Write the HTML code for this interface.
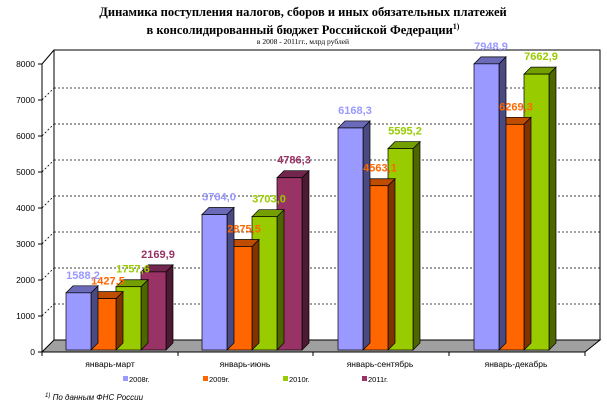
<!DOCTYPE html>
<html><head><meta charset="utf-8"><style>
body{margin:0;background:#fff}
svg text{font-family:"Liberation Sans",sans-serif}
</style></head><body>
<svg width="607" height="406" xmlns="http://www.w3.org/2000/svg">
<rect width="607" height="406" fill="#fff"/>
<text x="303" y="16" text-anchor="middle" font-weight="bold" font-size="12.5" style="font-family:'Liberation Serif',serif">Динамика поступления налогов, сборов и иных обязательных платежей</text>
<text x="303" y="34" text-anchor="middle" font-weight="bold" font-size="12.5" style="font-family:'Liberation Serif',serif">в консолидированный бюджет Российской Федерации<tspan font-size="8" dy="-5">1)</tspan></text>
<text x="303" y="44" text-anchor="middle" font-size="7.5" style="font-family:'Liberation Serif',serif">в 2008 - 2011гг., млрд рублей</text>
<rect x="54" y="50" width="546" height="290" fill="#fff" stroke="#000" stroke-width="1"/>
<polygon points="42,352 54,340 600,340 585,352" fill="#a0a0a0" stroke="#000" stroke-width="1"/>
<line x1="42" y1="64" x2="42" y2="352" stroke="#000"/>
<line x1="42" y1="64" x2="54" y2="50" stroke="#000"/>
<g stroke="#000" stroke-dasharray="2,2" stroke-width="0.8">
<line x1="54" y1="304" x2="600" y2="304"/><line x1="54" y1="268" x2="600" y2="268"/>
<line x1="54" y1="232" x2="600" y2="232"/><line x1="54" y1="196" x2="600" y2="196"/>
<line x1="54" y1="160" x2="600" y2="160"/><line x1="54" y1="124" x2="600" y2="124"/>
<line x1="54" y1="88" x2="600" y2="88"/>
<line x1="42" y1="316" x2="54" y2="304"/><line x1="42" y1="280" x2="54" y2="268"/>
<line x1="42" y1="244" x2="54" y2="232"/><line x1="42" y1="208" x2="54" y2="196"/>
<line x1="42" y1="172" x2="54" y2="160"/><line x1="42" y1="136" x2="54" y2="124"/>
<line x1="42" y1="100" x2="54" y2="88"/>
</g>
<g font-size="8.5" text-anchor="end">
<text x="35" y="355">0</text><text x="35" y="319">1000</text><text x="35" y="283">2000</text>
<text x="35" y="247">3000</text><text x="35" y="211">4000</text><text x="35" y="175">5000</text>
<text x="35" y="139">6000</text><text x="35" y="103">7000</text><text x="35" y="67">8000</text>
</g>
<g stroke="#000"><line x1="38" y1="352" x2="42" y2="352"/><line x1="38" y1="316" x2="42" y2="316"/><line x1="38" y1="280" x2="42" y2="280"/><line x1="38" y1="244" x2="42" y2="244"/><line x1="38" y1="208" x2="42" y2="208"/><line x1="38" y1="172" x2="42" y2="172"/><line x1="38" y1="136" x2="42" y2="136"/><line x1="38" y1="100" x2="42" y2="100"/><line x1="38" y1="64" x2="42" y2="64"/>
<line x1="42" y1="352" x2="585" y2="352"/>
<line x1="42" y1="352" x2="42" y2="356"/><line x1="178" y1="352" x2="178" y2="356"/><line x1="313" y1="352" x2="313" y2="356"/><line x1="449" y1="352" x2="449" y2="356"/><line x1="585" y1="352" x2="585" y2="356"/></g>
<g id="bars" stroke="#000" stroke-width="0.7"></g>
<g id="labels" font-weight="bold" font-size="11" text-anchor="middle"></g>
<g font-size="8.5" text-anchor="middle">
<text x="110" y="367">январь-март</text><text x="245" y="367">январь-июнь</text>
<text x="380" y="367">январь-сентябрь</text><text x="516" y="367">январь-декабрь</text>
</g>
<g font-size="7.5">
<rect x="123" y="376" width="5" height="5" fill="#9999ff"/><text x="129" y="382">2008г.</text>
<rect x="203" y="376" width="5" height="5" fill="#ff6600"/><text x="209" y="382">2009г.</text>
<rect x="283" y="376" width="5" height="5" fill="#99cc00"/><text x="289" y="382">2010г.</text>
<rect x="362" y="376" width="5" height="5" fill="#993366"/><text x="368" y="382">2011г.</text>
</g>
<text x="45" y="400" font-size="8" font-style="italic"><tspan font-size="6" dy="-3">1)</tspan><tspan dy="3"> По данным ФНС России</tspan></text>
<script>
(function(){
var data=[[1588.2,1427.5,1757.6,2169.9],[3764.0,2875.5,3703.0,4786.3],[6168.3,4563.1,5595.2,null],[7948.9,6269.3,7662.9,null]];
var front=["#9999ff","#ff6600","#99cc00","#993366"],side=["#4a4a80","#803300","#4d6600","#4d1a33"],topc=["#6a6ab8","#c04c00","#73a000","#73264d"];
var bg=document.getElementById("bars"),lg=document.getElementById("labels"),ns="http://www.w3.org/2000/svg";
function el(t,a,p){var e=document.createElementNS(ns,t);for(var k in a)e.setAttribute(k,a[k]);p.appendChild(e);return e;}
for(var i=0;i<4;i++)for(var j=3;j>=0;j--){var v=data[i][j];if(v==null)continue;
var x=66+136*i+25*j,w=25,y=350-0.036*v,d=7;
el("polygon",{points:(x+w)+","+y+" "+(x+w+d)+","+(y-d)+" "+(x+w+d)+","+(350-d)+" "+(x+w)+",350",fill:side[j]},bg);
el("polygon",{points:x+","+y+" "+(x+d)+","+(y-d)+" "+(x+w+d)+","+(y-d)+" "+(x+w)+","+y,fill:topc[j]},bg);
el("rect",{x:x,y:y,width:w,height:350-y,fill:front[j]},bg);
var t=el("text",{x:x+17,y:y-14,fill:front[j]},lg);t.textContent=v.toFixed(1).replace(".",",");}
})();
</script>
</svg>
</body></html>
